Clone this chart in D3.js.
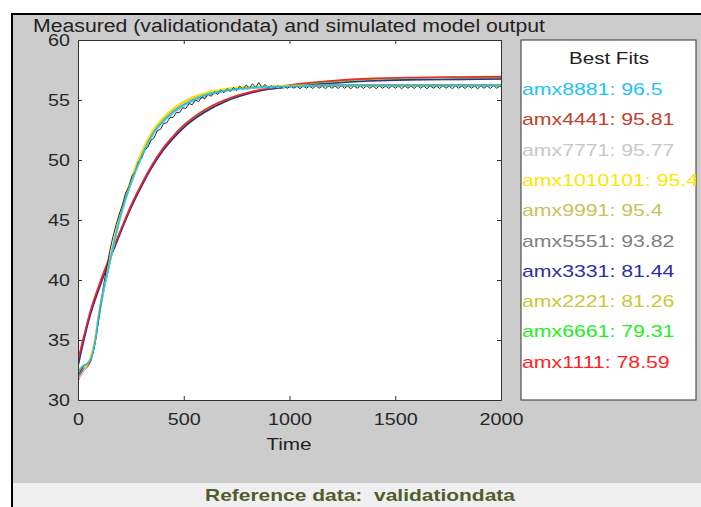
<!DOCTYPE html>
<html>
<head>
<meta charset="utf-8">
<script src="https://cdn.jsdelivr.net/npm/d3@7"></script>
<style>
  body { margin: 0; background: #fff; }
  text { font-family: "Liberation Sans", Arial, sans-serif; }
</style>
</head>
<body>
<svg id="chart" width="701" height="507"></svg>
<script>
// ---- data ----
var xTicks = [0, 500, 1000, 1500, 2000]
var yTicks = [30, 35, 40, 45, 50, 55, 60]

var fitNames = ["amx8881", "amx4441", "amx7771", "amx1010101", "amx9991", "amx5551", "amx3331", "amx2221", "amx6661", "amx1111"]
var fitScores = [96.5, 95.81, 95.77, 95.4, 95.4, 93.82, 81.44, 81.26, 79.31, 78.59]
var fitColors = ["#1ec3f5", "#c0402c", "#c8c8c8", "#fce600", "#c4c45a", "#808080", "#2f2f9f", "#c8c836", "#22ee22", "#ff1f1f"]

// simulated outputs, sampled on simTime
var simTime = [0, 20, 40, 60, 80, 100, 125, 150, 175, 200, 250, 300, 350, 400, 450, 500, 600, 700, 800, 900, 1000, 1200, 1400, 1600, 1800, 2000]
var sim8881 = [32.2, 32.8, 33.0, 33.4, 34.8, 37.3, 39.6, 41.5, 43.5, 45.3, 48.1, 50.3, 52.1, 53.2, 54.0, 54.6, 55.4, 55.8, 56.0, 56.1, 56.15, 56.2, 56.2, 56.2, 56.2, 56.2]
var sim4441 = [31.6, 32.4, 32.7, 33.3, 34.8, 37.1, 39.5, 41.5, 43.5, 45.3, 48.1, 50.3, 52.1, 53.2, 54.0, 54.6, 55.4, 55.8, 56.0, 56.1, 56.15, 56.25, 56.25, 56.25, 56.25, 56.25]
var sim7771 = [31.7, 32.2, 32.8, 33.5, 34.9, 37.1, 39.4, 41.4, 43.4, 45.2, 48.0, 50.2, 52.0, 53.1, 53.9, 54.5, 55.35, 55.75, 55.95, 56.05, 56.1, 56.15, 56.15, 56.15, 56.15, 56.15]
var sim1010101 = [32.6, 32.7, 32.9, 33.6, 35.1, 37.4, 39.8, 41.7, 43.7, 45.6, 48.4, 50.7, 52.4, 53.5, 54.3, 54.9, 55.6, 55.95, 56.1, 56.15, 56.2, 56.2, 56.2, 56.2, 56.2, 56.2]
var sim9991 = [32.5, 32.7, 32.9, 33.5, 35.0, 37.3, 39.7, 41.6, 43.6, 45.5, 48.3, 50.6, 52.3, 53.4, 54.2, 54.8, 55.5, 55.9, 56.05, 56.1, 56.15, 56.2, 56.2, 56.2, 56.2, 56.2]
var sim5551 = [32.4, 32.6, 32.9, 33.4, 34.8, 37.1, 39.4, 41.4, 43.4, 45.2, 48.0, 50.2, 52.0, 53.1, 53.9, 54.5, 55.3, 55.75, 55.95, 56.05, 56.1, 56.2, 56.25, 56.25, 56.25, 56.25]
var sim3331 = [32.8, 34.4, 35.9, 37.2, 38.3, 39.3, 40.5, 41.7, 42.8, 43.9, 46.0, 47.8, 49.4, 50.75, 51.8, 52.7, 54.0, 54.9, 55.5, 55.9, 56.1, 56.4, 56.6, 56.7, 56.72, 56.75]
var sim2221 = [32.9, 34.5, 36.0, 37.3, 38.4, 39.4, 40.6, 41.75, 42.85, 43.95, 46.0, 47.8, 49.4, 50.75, 51.8, 52.7, 54.0, 54.9, 55.5, 55.9, 56.1, 56.4, 56.6, 56.7, 56.72, 56.75]
var sim6661 = [33.1, 34.6, 36.05, 37.35, 38.45, 39.45, 40.65, 41.8, 42.9, 44.0, 46.1, 47.9, 49.5, 50.85, 51.9, 52.8, 54.1, 55.0, 55.55, 55.95, 56.2, 56.55, 56.75, 56.85, 56.88, 56.9]
var sim1111 = [33.3, 34.8, 36.2, 37.5, 38.6, 39.6, 40.8, 41.9, 43.0, 44.1, 46.2, 48.0, 49.6, 50.95, 52.0, 52.9, 54.2, 55.05, 55.6, 56.0, 56.25, 56.6, 56.8, 56.88, 56.92, 56.95]

// measured validation data, one sample every measuredStep time units
var measuredStep = 15
var measured = [
  32.0, 32.5, 32.9, 33.0, 33.3, 34.2, 35.8, 37.6, 39.4, 41.0,
  42.4, 43.6, 44.6, 45.5, 46.25, 47.25, 47.75, 48.65, 49.05, 49.85,
  50.15, 50.85, 51.05, 51.65, 51.85, 52.45, 52.55, 53.05, 53.1, 53.55,
  53.55, 53.95, 53.95, 54.35, 54.3, 54.7, 54.6, 55.0, 54.85, 55.25,
  55.1, 55.5, 55.3, 55.7, 55.45, 55.85, 55.6, 55.95, 55.7, 56.05,
  55.8, 56.15, 55.9, 56.25, 56.0, 56.35, 56.05, 56.45, 56.05, 56.3,
  55.98, 56.2, 55.96, 56.18, 55.98, 56.16, 55.96, 56.2, 55.98, 56.16,
  55.94, 56.18, 55.98, 56.16, 55.96, 56.2, 55.98, 56.16, 55.94, 56.18,
  55.98, 56.16, 55.96, 56.2, 55.98, 56.16, 55.94, 56.18, 55.98, 56.16,
  55.96, 56.2, 55.98, 56.16, 55.94, 56.18, 55.98, 56.16, 55.96, 56.2,
  55.98, 56.16, 55.94, 56.18, 55.98, 56.16, 55.96, 56.2, 55.98, 56.16,
  55.94, 56.18, 55.98, 56.16, 55.96, 56.2, 55.98, 56.16, 55.94, 56.18,
  55.98, 56.16, 55.96, 56.2, 55.98, 56.16, 55.94, 56.18, 55.98, 56.16,
  55.96, 56.2, 55.98, 56.16, 56.0
]

var simSeries = [sim8881, sim4441, sim7771, sim1010101, sim9991, sim5551, sim3331, sim2221, sim6661, sim1111]

// ---- drawing ----
var svg = d3.select("#chart")
var W = 701, H = 507
var plot = {left: 78, top: 40, right: 501, bottom: 400}

// stretch text horizontally, the screenshot is a bit wider than it is tall
function stretch(sel, k) {
  sel.each(function() {
    var w = this.getComputedTextLength()
    if (w > 0) d3.select(this).attr("textLength", w * k).attr("lengthAdjust", "spacingAndGlyphs")
  })
}

svg.append("rect").attr("width", W).attr("height", H).attr("fill", "#fff")
svg.append("rect").attr("x", 12).attr("y", 14).attr("width", W - 12).attr("height", 469).attr("fill", "#cccccc")
svg.append("rect").attr("x", 12).attr("y", 483).attr("width", W - 12).attr("height", H - 483).attr("fill", "#efefef")
svg.append("path").attr("d", "M12," + H + "V14H" + W).attr("fill", "none").attr("stroke", "#000").attr("stroke-width", 2)

var x = d3.scaleLinear().domain([0, 2000]).range([plot.left, plot.right])
var y = d3.scaleLinear().domain([30, 60]).range([plot.bottom, plot.top])

svg.append("rect")
  .attr("x", plot.left).attr("y", plot.top)
  .attr("width", plot.right - plot.left).attr("height", plot.bottom - plot.top)
  .attr("fill", "#fff")

svg.append("clipPath").attr("id", "plotClip").append("rect")
  .attr("x", plot.left).attr("y", plot.top)
  .attr("width", plot.right - plot.left).attr("height", plot.bottom - plot.top)

var lineGroup = svg.append("g").attr("clip-path", "url(#plotClip)")
var line = d3.line().x(d => x(d[0])).y(d => y(d[1])).curve(d3.curveMonotoneX)

// slow fits first, red ends up on top
var drawOrder = [7, 8, 6, 9, 5, 1, 2, 4, 3]
drawOrder.forEach(function(k) {
  var pts = simTime.map((t, i) => [t, simSeries[k][i]])
  lineGroup.append("path").attr("d", line(pts))
    .attr("fill", "none").attr("stroke", fitColors[k]).attr("stroke-width", 1.6)
})

var measPts = measured.map((v, i) => [i * measuredStep, v])
lineGroup.append("path")
  .attr("d", d3.line().x(d => x(d[0])).y(d => y(d[1]))(measPts))
  .attr("fill", "none").attr("stroke", "#2a2a2a").attr("stroke-width", 1)

lineGroup.append("path")
  .attr("d", line(simTime.map((t, i) => [t, sim8881[i]])))
  .attr("fill", "none").attr("stroke", fitColors[0]).attr("stroke-width", 1.6)

// axes, ticks pointing inward on all four sides
function styleAxis(g) {
  g.select(".domain").attr("stroke", "#333")
  g.selectAll(".tick line").attr("stroke", "#333")
  g.selectAll("text").attr("font-size", 17).attr("fill", "#262626")
    .attr("font-family", "Liberation Sans, Arial, sans-serif")
}

var gx = svg.append("g").attr("transform", "translate(0," + plot.bottom + ")")
  .call(d3.axisBottom(x).tickValues(xTicks).tickFormat(d3.format("d"))
    .tickSizeInner(-4).tickSizeOuter(0).tickPadding(13))
styleAxis(gx)
stretch(gx.selectAll("text"), 1.16)

var gxTop = svg.append("g").attr("transform", "translate(0," + plot.top + ")")
  .call(d3.axisTop(x).tickValues(xTicks).tickSizeInner(-4).tickSizeOuter(0).tickFormat(""))
styleAxis(gxTop)

var gy = svg.append("g").attr("transform", "translate(" + plot.left + ",0)")
  .call(d3.axisLeft(y).tickValues(yTicks).tickSizeInner(-4).tickSizeOuter(0).tickPadding(8))
styleAxis(gy)
stretch(gy.selectAll("text"), 1.16)

var gyRight = svg.append("g").attr("transform", "translate(" + plot.right + ",0)")
  .call(d3.axisRight(y).tickValues(yTicks).tickSizeInner(-4).tickSizeOuter(0).tickFormat(""))
styleAxis(gyRight)

// titles
var titleText = svg.append("text").attr("x", 289).attr("y", 32)
  .attr("text-anchor", "middle").attr("font-size", 18).attr("fill", "#222")
  .text("Measured (validationdata) and simulated model output")
titleText.attr("textLength", 512).attr("lengthAdjust", "spacingAndGlyphs")

var xLabel = svg.append("text").attr("x", 289).attr("y", 450)
  .attr("text-anchor", "middle").attr("font-size", 17).attr("fill", "#222")
  .text("Time")
stretch(xLabel, 1.22)

// legend
var lg = {x: 521, y: 40, w: 175, h: 360}
svg.append("rect").attr("x", lg.x).attr("y", lg.y).attr("width", lg.w).attr("height", lg.h)
  .attr("fill", "#fff").attr("stroke", "#333").attr("stroke-width", 1)
svg.append("clipPath").attr("id", "legClip").append("rect")
  .attr("x", lg.x).attr("y", lg.y).attr("width", lg.w).attr("height", lg.h)

var legTitle = svg.append("text").attr("x", 609).attr("y", 64)
  .attr("text-anchor", "middle").attr("font-size", 17).attr("fill", "#222")
  .text("Best Fits")
stretch(legTitle, 1.21)

var legItems = svg.append("g").attr("clip-path", "url(#legClip)")
  .selectAll("text")
  .data(fitNames)
  .enter().append("text")
  .attr("x", 522)
  .attr("y", (d, i) => 95 + i * 30.3)
  .attr("font-size", 17)
  .attr("fill", (d, i) => fitColors[i])
  .text((d, i) => d + ": " + fitScores[i])
stretch(legItems, 1.25)

// status line at the bottom
var statusText = svg.append("text").attr("x", 360).attr("y", 501)
  .attr("text-anchor", "middle").attr("font-size", 17).attr("font-weight", "bold")
  .attr("fill", "#505c2c").style("white-space", "pre")
  .text("Reference data:  validationdata")
statusText.attr("textLength", 310).attr("lengthAdjust", "spacingAndGlyphs")
</script>
</body>
</html>
